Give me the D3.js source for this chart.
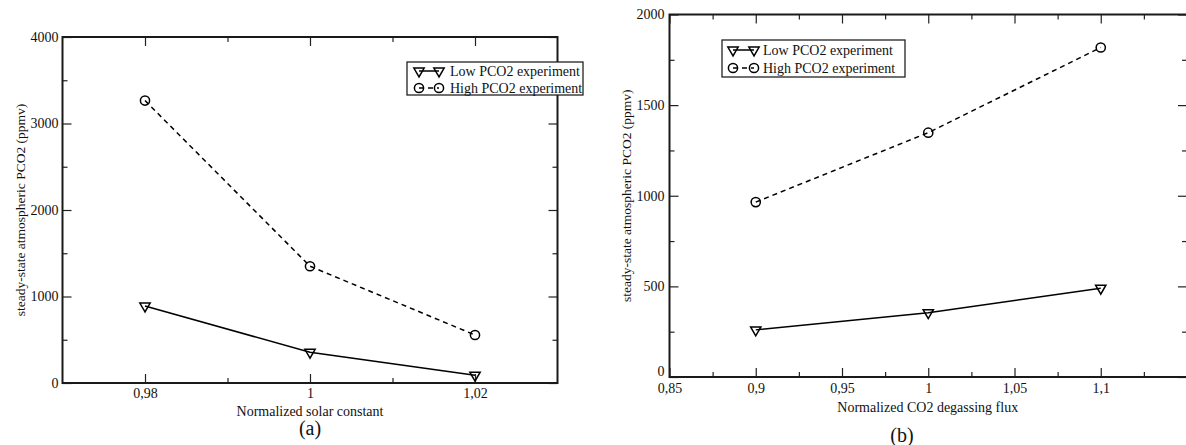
<!DOCTYPE html>
<html><head><meta charset="utf-8">
<script src="https://cdn.jsdelivr.net/npm/d3@7"></script>
<style>
html,body{margin:0;padding:0;background:#fff;}
svg{display:block;}
text{font-family:"Liberation Serif","Times New Roman",serif;fill:#111;}
</style></head>
<body>
<svg id="chart" width="1186" height="445"></svg>
<script>
// ---- data ----
const seriesNames = ["Low PCO2 experiment", "High PCO2 experiment"];
// panel (a)
const solarConstant = [0.98, 1, 1.02];
const lowA = [890, 355, 90];
const highA = [3265, 1350, 555];
const xTicksA = [0.98, 1, 1.02];
const xMinorA = [0.99, 1.01];
const yTicksA = [0, 1000, 2000, 3000, 4000];
const yMinorA = [500, 1500, 2500, 3500];
// panel (b)
const degassingFlux = [0.9, 1, 1.1];
const lowB = [260, 355, 490];
const highB = [965, 1348, 1818];
const xTicksB = [0.85, 0.9, 0.95, 1, 1.05, 1.1];
const xMinorB = [0.875, 0.925, 0.975, 1.025, 1.075, 1.125];
const yTicksB = [0, 500, 1000, 1500, 2000];
const yMinorB = [250, 750, 1250, 1750];

const svg = d3.select("#chart");
const fmt = d => String(d).replace(".", ",");

function panel(cfg) {
  const {L, R, T, B} = cfg;
  const x = d3.scaleLinear().domain(cfg.xDomain).range([L, R]);
  const y = d3.scaleLinear().domain(cfg.yDomain).range([B, T]);
  const g = svg.append("g");
  const major = 9, minor = 5;

  function ax(axisFn, scale, ticks, size, transform, labels, pad) {
    const a = axisFn(scale).tickValues(ticks).tickSize(size).tickPadding(pad);
    if (labels) a.tickFormat(fmt); else a.tickFormat("");
    const s = g.append("g").attr("transform", transform).call(a);
    s.select(".domain").remove();
    s.selectAll(".tick line").attr("stroke", "#222").attr("stroke-width", 1.2);
    s.selectAll("text").attr("font-size", 14).attr("fill", "#111")
      .attr("font-family", '"Liberation Serif", serif');
    return s;
  }
  // bottom
  ax(d3.axisBottom, x, cfg.xTicks, -major, `translate(0,${B})`, true, cfg.xPad);
  ax(d3.axisBottom, x, cfg.xMinor, -minor, `translate(0,${B})`, false, 0);
  // top
  ax(d3.axisTop, x, cfg.xTicks, -major, `translate(0,${T})`, false, 0);
  ax(d3.axisTop, x, cfg.xMinor, -minor, `translate(0,${T})`, false, 0);
  // left
  const left = ax(d3.axisLeft, y, cfg.yTicks, -major, `translate(${L},0)`, true, cfg.yPad);
  if (cfg.raiseZero) {
    left.selectAll(".tick").filter(d => d === 0).select("text").attr("y", -cfg.raiseZero);
  }
  ax(d3.axisLeft, y, cfg.yMinor, -minor, `translate(${L},0)`, false, 0);
  // right
  ax(d3.axisRight, y, cfg.yTicks, -major, `translate(${R},0)`, false, 0);
  ax(d3.axisRight, y, cfg.yMinor, -minor, `translate(${R},0)`, false, 0);

  // frame
  g.append("rect").attr("x", L).attr("y", T).attr("width", R - L).attr("height", B - T)
    .attr("fill", "none").attr("stroke", "#1a1a1a").attr("stroke-width", 2);

  // lines
  const line = d3.line().x(d => x(d[0])).y(d => y(d[1]));
  const lowPts = cfg.xs.map((v, i) => [v, cfg.low[i]]);
  const highPts = cfg.xs.map((v, i) => [v, cfg.high[i]]);
  g.append("path").attr("d", line(lowPts)).attr("fill", "none")
    .attr("stroke", "#000").attr("stroke-width", 1.5);
  g.append("path").attr("d", line(highPts)).attr("fill", "none")
    .attr("stroke", "#000").attr("stroke-width", 1.5).attr("stroke-dasharray", "5,4");

  const tri = d3.symbol(d3.symbolTriangle, 46)();
  g.selectAll(".tri").data(lowPts).join("path")
    .attr("d", tri).attr("transform", d => `translate(${x(d[0])},${y(d[1])}) rotate(180)`)
    .attr("fill", "none").attr("stroke", "#000").attr("stroke-width", 1.5);
  g.selectAll(".circ").data(highPts).join("circle")
    .attr("cx", d => x(d[0])).attr("cy", d => y(d[1])).attr("r", 4.6)
    .attr("fill", "none").attr("stroke", "#000").attr("stroke-width", 1.5);

  // axis titles
  g.append("text").attr("x", (L + Math.min(R, 1186)) / 2).attr("y", cfg.xTitleY)
    .attr("text-anchor", "middle").attr("dominant-baseline", "central")
    .attr("font-size", 14).text(cfg.xTitle);
  g.append("text").attr("transform", `translate(${cfg.yTitleX},${(T + B) / 2}) rotate(-90)`)
    .attr("text-anchor", "middle").attr("dominant-baseline", "central")
    .attr("font-size", 13.5).text("steady-state atmospheric PCO2 (ppmv)");
  g.append("text").attr("x", cfg.tagX).attr("y", cfg.tagY)
    .attr("text-anchor", "middle").attr("dominant-baseline", "central")
    .attr("font-size", 20).text(cfg.tag);

  // legend
  const lg = cfg.legend;
  g.append("rect").attr("x", lg.x0).attr("y", lg.y0).attr("width", lg.x1 - lg.x0)
    .attr("height", lg.y1 - lg.y0).attr("fill", "#fff").attr("stroke", "#222").attr("stroke-width", 1.3);
  seriesNames.forEach((name, i) => {
    const ry = lg.rows[i];
    const ln = g.append("line").attr("x1", lg.m1).attr("x2", lg.m2).attr("y1", ry).attr("y2", ry)
      .attr("stroke", "#000").attr("stroke-width", 1.5);
    if (i === 1) ln.attr("stroke-dasharray", "5,4");
    [lg.m1, lg.m2].forEach(mx => {
      if (i === 0) {
        g.append("path").attr("d", tri).attr("transform", `translate(${mx},${ry}) rotate(180)`)
          .attr("fill", "none").attr("stroke", "#000").attr("stroke-width", 1.5);
      } else {
        g.append("circle").attr("cx", mx).attr("cy", ry).attr("r", 4.6)
          .attr("fill", "none").attr("stroke", "#000").attr("stroke-width", 1.5);
      }
    });
    g.append("text").attr("x", lg.tx).attr("y", ry).attr("dominant-baseline", "central")
      .attr("font-size", 14).text(name);
  });
}

panel({
  L: 62.5, R: 557.5, T: 37, B: 383,
  xDomain: [0.97, 1.03], yDomain: [0, 4000],
  xTicks: xTicksA, xMinor: xMinorA, yTicks: yTicksA, yMinor: yMinorA,
  xPad: 5, yPad: 4, raiseZero: 0,
  xs: solarConstant, low: lowA, high: highA,
  xTitle: "Normalized solar constant", xTitleY: 411,
  yTitleX: 20, tag: "(a)", tagX: 310, tagY: 428,
  legend: {x0: 407, x1: 583, y0: 62, y1: 95, rows: [71, 88], m1: 419, m2: 439, tx: 450}
});

panel({
  L: 669.5, R: 1187, T: 14.5, B: 377,
  xDomain: [0.85, 1.15], yDomain: [0, 2000],
  xTicks: xTicksB, xMinor: xMinorB, yTicks: yTicksB, yMinor: yMinorB,
  xPad: 6, yPad: 5, raiseZero: 6,
  xs: degassingFlux, low: lowB, high: highB,
  xTitle: "Normalized CO2 degassing flux", xTitleY: 407,
  yTitleX: 626, tag: "(b)", tagX: 902, tagY: 435,
  legend: {x0: 722, x1: 905, y0: 40, y1: 77, rows: [50, 68], m1: 733, m2: 754, tx: 763}
});
</script>
</body></html>
